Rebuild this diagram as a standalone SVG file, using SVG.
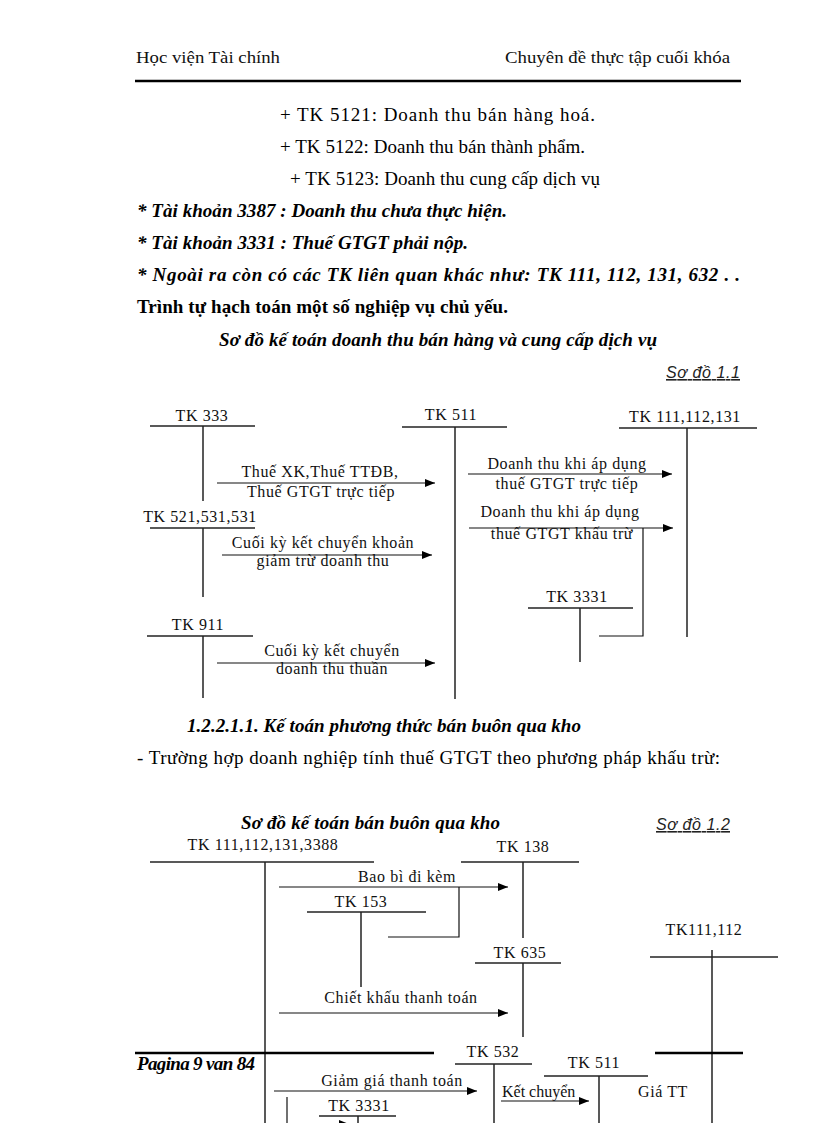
<svg xmlns="http://www.w3.org/2000/svg" width="816" height="1123" viewBox="0 0 816 1123">
<defs>
<marker id="ah" markerUnits="userSpaceOnUse" markerWidth="10" markerHeight="8" refX="10" refY="4" orient="auto">
<path d="M0,0 L10,4 L0,8 z" fill="#000"/>
</marker>
<style>
.body{font-family:"Liberation Serif",serif;font-size:19px;fill:#000}
.b{font-weight:bold}
.i{font-style:italic}
.hdr{font-family:"Liberation Serif",serif;font-size:16px;fill:#111}
.tag{font-family:"Liberation Sans",sans-serif;font-style:italic;font-size:16px;fill:#222;text-decoration:underline}
.lbl{font-family:"Liberation Serif",serif;font-size:16px;fill:#111}
.lblc{font-family:"Liberation Serif",serif;font-size:16px;fill:#111;letter-spacing:0.6px;text-anchor:middle}
.acc{stroke:#222;stroke-width:1.5;fill:none}
.arr{stroke:#111;stroke-width:1.2;fill:none;marker-end:url(#ah)}
.ln{stroke:#111;stroke-width:1.2;fill:none}
.rule{stroke:#000;stroke-width:2.5}
</style>
</defs>
<rect width="816" height="1123" fill="#fff"/>

<g id="page-header">
<text class="hdr" x="136" y="63" textLength="144" lengthAdjust="spacingAndGlyphs">Học viện Tài chính</text>
<text class="hdr" x="505" y="63" textLength="225" lengthAdjust="spacingAndGlyphs">Chuyên  đề thực tập  cuối khóa</text>
<line class="rule" x1="135" y1="81" x2="741" y2="81"/>
</g>

<g id="body-text">
<text class="body" x="280" y="121" textLength="315">+ TK 5121:  Doanh thu bán hàng hoá.</text>
<text class="body" x="280" y="153" textLength="305">+ TK 5122:  Doanh thu bán thành phẩm.</text>
<text class="body" x="290" y="185" textLength="310">+ TK 5123:  Doanh thu cung cấp dịch vụ</text>
<text class="body b i" x="137" y="217" textLength="370">* Tài khoản 3387 : Doanh thu chưa thực hiện.</text>
<text class="body b i" x="137" y="249" textLength="331">* Tài khoản 3331 : Thuế GTGT phải nộp.</text>
<text class="body b i" x="137" y="281" textLength="603">* Ngoài ra còn có các TK liên quan khác như: TK 111, 112, 131, 632 . .</text>
<text class="body b" x="137" y="313" textLength="371">Trình tự hạch toán một số nghiệp vụ chủ yếu.</text>
<text class="body b i" x="219" y="346" textLength="438">Sơ đồ kế toán doanh thu bán hàng và cung cấp dịch vụ</text>
<text class="tag" x="666" y="378" textLength="74">Sơ đồ 1.1</text>
<text class="body b i" x="187" y="732" textLength="394">1.2.2.1.1. Kế toán phương thức bán buôn qua kho</text>
<text class="body" x="137" y="764" textLength="583">- Trường hợp doanh nghiệp tính thuế GTGT theo phương pháp khấu trừ:</text>
<text class="body b i" x="241" y="829" textLength="259">Sơ đồ kế toán bán buôn qua kho</text>
<text class="tag" x="656" y="830" textLength="74">Sơ đồ 1.2</text>
</g>

<!-- Diagram 1.1 accounts -->
<g id="d1-tk333">
<text class="lblc" x="202" y="421">TK 333</text>
<line class="acc" x1="150" y1="426" x2="255" y2="426"/>
<line class="acc" x1="203" y1="426" x2="203" y2="501"/>
</g>
<g id="d1-tk511">
<text class="lblc" x="451" y="420">TK 511</text>
<line class="acc" x1="402" y1="427" x2="507" y2="427"/>
<line class="acc" x1="455" y1="427" x2="455" y2="699"/>
</g>
<g id="d1-tk111">
<text class="lblc" x="685" y="422">TK 111,112,131</text>
<line class="acc" x1="619" y1="428" x2="757" y2="428"/>
<line class="acc" x1="687" y1="428" x2="687" y2="637"/>
</g>
<g id="d1-tk521">
<text class="lblc" x="200" y="522">TK 521,531,531</text>
<line class="acc" x1="150" y1="528" x2="255" y2="528"/>
<line class="acc" x1="203" y1="528" x2="203" y2="597"/>
</g>
<g id="d1-tk911">
<text class="lblc" x="198" y="630">TK 911</text>
<line class="acc" x1="147" y1="636" x2="253" y2="636"/>
<line class="acc" x1="203" y1="636" x2="203" y2="698"/>
</g>
<g id="d1-tk3331">
<text class="lblc" x="577" y="602">TK 3331</text>
<line class="acc" x1="528" y1="608" x2="633" y2="608"/>
<line class="acc" x1="580" y1="608" x2="580" y2="662"/>
</g>

<!-- Diagram 1.2 accounts -->
<g id="d2-tk111">
<text class="lblc" x="263" y="850">TK 111,112,131,3388</text>
<line class="acc" x1="150" y1="862" x2="374" y2="862"/>
<line class="acc" x1="265" y1="862" x2="265" y2="1123"/>
</g>
<g id="d2-tk138">
<text class="lblc" x="523" y="852">TK 138</text>
<line class="acc" x1="461" y1="862" x2="579" y2="862"/>
<line class="acc" x1="523" y1="862" x2="523" y2="938"/>
</g>
<g id="d2-tk153">
<text class="lblc" x="361" y="907">TK 153</text>
<line class="acc" x1="307" y1="912" x2="426" y2="912"/>
<line class="acc" x1="361" y1="912" x2="361" y2="987"/>
</g>
<g id="d2-tk635">
<text class="lblc" x="520" y="958">TK 635</text>
<line class="acc" x1="475" y1="963" x2="561" y2="963"/>
<line class="acc" x1="523" y1="963" x2="523" y2="1037"/>
</g>
<g id="d2-tk111112">
<text class="lblc" x="704" y="935">TK111,112</text>
<line class="acc" x1="650" y1="957" x2="778" y2="957"/>
<line class="acc" x1="712" y1="950" x2="712" y2="1123"/>
</g>
<g id="d2-tk532">
<text class="lblc" x="493" y="1057">TK 532</text>
<line class="acc" x1="455" y1="1064" x2="532" y2="1064"/>
<line class="acc" x1="494" y1="1064" x2="494" y2="1123"/>
</g>
<g id="d2-tk511">
<text class="lblc" x="594" y="1068">TK 511</text>
<line class="acc" x1="544" y1="1076" x2="648" y2="1076"/>
<line class="acc" x1="599" y1="1076" x2="599" y2="1123"/>
</g>
<g id="d2-tk3331">
<text class="lblc" x="359" y="1111">TK 3331</text>
<line class="acc" x1="319" y1="1116" x2="396" y2="1116"/>
<line class="acc" x1="358" y1="1116" x2="358" y2="1123"/>
</g>

<g id="connectors">
<!-- diagram 1.1 -->
<line class="arr" x1="217" y1="483" x2="435" y2="483"/>
<text class="lblc" x="320" y="477">Thuế  XK,Thuế  TTĐB,</text>
<text class="lblc" x="321" y="497">Thuế  GTGT  trực tiếp</text>
<line class="arr" x1="222" y1="555" x2="432" y2="555"/>
<text class="lblc" x="323" y="548">Cuối kỳ kết chuyển khoản</text>
<text class="lblc" x="323" y="566">giảm trừ doanh thu</text>
<line class="arr" x1="217" y1="663" x2="435" y2="663"/>
<text class="lblc" x="332" y="656">Cuối kỳ kết chuyển</text>
<text class="lblc" x="332" y="674">doanh thu thuần</text>
<line class="arr" x1="468" y1="474" x2="672" y2="474"/>
<text class="lblc" x="567" y="469">Doanh thu khi áp dụng</text>
<text class="lblc" x="567" y="489">thuế GTGT  trực tiếp</text>
<line class="arr" x1="469" y1="528" x2="673" y2="528"/>
<text class="lblc" x="560" y="517">Doanh thu khi áp dụng</text>
<text class="lblc" x="562" y="539">thuế GTGT  khấu trừ</text>
<polyline class="ln" points="599,636 643,636 643,528"/>
<!-- diagram 1.2 -->
<line class="arr" x1="279" y1="887" x2="508" y2="887"/>
<text class="lblc" x="407" y="882">Bao bì đi kèm</text>
<polyline class="ln" points="388,937 459,937 459,887"/>
<line class="arr" x1="279" y1="1013" x2="508" y2="1013"/>
<text class="lblc" x="401" y="1003">Chiết khấu thanh toán</text>
<line class="arr" x1="274" y1="1091" x2="477" y2="1091"/>
<text class="lblc" x="392" y="1086">Giảm giá thanh toán</text>
<line class="arr" x1="501" y1="1101" x2="589" y2="1101"/>
<text class="lbl" x="502" y="1097">Kết chuyển</text>
<text class="lblc" x="663" y="1097">Giá TT</text>
<line class="ln" x1="287" y1="1097" x2="287" y2="1123"/>
<line class="arr" x1="310" y1="1124" x2="349" y2="1124"/>
</g>

<g id="page-footer">
<line class="rule" x1="135" y1="1053" x2="434" y2="1053"/>
<line class="rule" x1="655" y1="1053" x2="743" y2="1053"/>
<text class="body b i" x="137" y="1070" font-size="15" textLength="118">Pagina 9 van 84</text>
</g>
</svg>
